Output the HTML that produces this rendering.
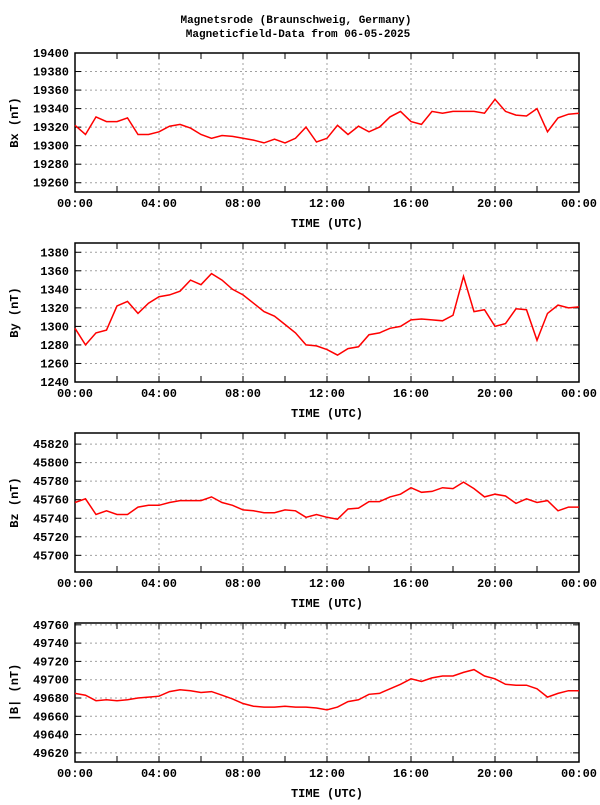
<!DOCTYPE html>
<html><head><meta charset="utf-8"><style>
body{margin:0;background:#fff;width:600px;height:800px;overflow:hidden}
svg text{font-family:"Liberation Mono",monospace;font-weight:bold;font-size:12px;fill:#000}
svg text.title{font-size:11px}
</style></head><body>
<svg id="chart" width="600" height="800" xmlns="http://www.w3.org/2000/svg">
<text class="title" x="296" y="23" text-anchor="middle">Magnetsrode (Braunschweig, Germany)</text>
<text class="title" x="298" y="37" text-anchor="middle">Magneticfield-Data from 06-05-2025</text>
</svg>
<script>
const hours = [0,0.5,1,1.5,2,2.5,3,3.5,4,4.5,5,5.5,6,6.5,7,7.5,8,8.5,9,9.5,10,10.5,11,11.5,12,12.5,13,13.5,14,14.5,15,15.5,16,16.5,17,17.5,18,18.5,19,19.5,20,20.5,21,21.5,22,22.5,23,23.5,24];
const bxValues = [19322,19312,19331,19326,19326,19330,19312,19312,19315,19321,19323,19319,19312,19308,19311,19310,19308,19306,19303,19307,19303,19308,19320,19304,19308,19322,19312,19321,19315,19320,19331,19337,19326,19323,19337,19335,19337,19337,19337,19335,19350,19337,19333,19332,19340,19315,19330,19334,19335];
const byValues = [1298,1280,1293,1296,1322,1327,1314,1325,1332,1334,1338,1350,1345,1357,1350,1340,1334,1325,1316,1311,1302,1293,1280,1279,1275,1269,1276,1278,1291,1293,1298,1300,1307,1308,1307,1306,1312,1354,1316,1318,1300,1303,1319,1318,1285,1314,1323,1320,1321];
const bzValues = [45757,45761,45744,45748,45744,45744,45752,45754,45754,45757,45759,45759,45759,45763,45757,45754,45749,45748,45746,45746,45749,45748,45741,45744,45741,45739,45750,45751,45758,45758,45763,45766,45773,45768,45769,45773,45772,45779,45772,45763,45766,45764,45756,45761,45757,45759,45748,45752,45752];
const btValues = [49685,49683,49677,49678,49677,49678,49680,49681,49682,49687,49689,49688,49686,49687,49683,49679,49674,49671,49670,49670,49671,49670,49670,49669,49667,49670,49676,49678,49684,49685,49690,49695,49701,49698,49702,49704,49704,49708,49711,49704,49701,49695,49694,49694,49690,49681,49685,49688,49688];
const xTickLabels = ["00:00","04:00","08:00","12:00","16:00","20:00","00:00"];
const bxTicks = [19260,19280,19300,19320,19340,19360,19380,19400];
const byTicks = [1240,1260,1280,1300,1320,1340,1360,1380];
const bzTicks = [45700,45720,45740,45760,45780,45800,45820];
const btTicks = [49620,49640,49660,49680,49700,49720,49740,49760];

const NS="http://www.w3.org/2000/svg";
const svg=document.getElementById('chart');
function mk(tag,attrs,parent){const e=document.createElementNS(NS,tag);for(const k in attrs)e.setAttribute(k,attrs[k]);(parent||svg).appendChild(e);return e;}
const L=75,R=579,H=139;
const panels=[
 {key:'bx',label:'Bx (nT)',vals:bxValues,ticks:bxTicks,min:19250,max:19400},
 {key:'by',label:'By (nT)',vals:byValues,ticks:byTicks,min:1240,max:1390},
 {key:'bz',label:'Bz (nT)',vals:bzValues,ticks:bzTicks,min:45682,max:45832},
 {key:'bt',label:'|B| (nT)',vals:btValues,ticks:btTicks,min:49610,max:49762}
];
panels.forEach((p,i)=>{
  const T=53+190*i,B=T+H;
  const g=mk('g',{});
  
  
  const xs=h=>L+h/24*(R-L);
  const ys=v=>B-(v-p.min)/(p.max-p.min)*H;
  p.ticks.forEach(t=>{const y=ys(t);
    const gl=mk('line',{x1:L,x2:R,y1:y,y2:y,stroke:'#a0a0a0','stroke-dasharray':'2,3'},g);
    
    
    mk('line',{x1:L,x2:L+6,y1:y,y2:y,stroke:'#000'},g);
    mk('line',{x1:R-6,x2:R,y1:y,y2:y,stroke:'#000'},g);
    const tl=mk('text',{x:L-6,y:y+4,'text-anchor':'end'},g);
    tl.textContent=t;
    
    
  });
  for(let h=0;h<=24;h+=2){const x=xs(h);
    if(h%4==0&&h>0&&h<24){const gl=mk('line',{x1:x,x2:x,y1:T,y2:B,stroke:'#a0a0a0','stroke-dasharray':'2,3'},g);
      
      }
    mk('line',{x1:x,x2:x,y1:B,y2:B-6,stroke:'#000'},g);
    mk('line',{x1:x,x2:x,y1:T,y2:T+6,stroke:'#000'},g);
  }
  xTickLabels.forEach((s,j)=>{const tl=mk('text',{x:xs(j*4),y:B+15,'text-anchor':'middle'},g);
    tl.textContent=s;
    
    });
  const xl=mk('text',{x:327,y:B+35,'text-anchor':'middle'},g);
  xl.textContent='TIME (UTC)';
  
  
  const cy=(T+B)/2;
  const yl=mk('text',{x:18,y:cy,'text-anchor':'middle',transform:`rotate(-90 18 ${cy})`},g);
  yl.textContent=p.label;
  
  
  const fr=mk('rect',{x:L,y:T,width:R-L,height:H,fill:'none',stroke:'#000','stroke-width':1.5},g);
  
  
  const pts=p.vals.map((v,j)=>xs(hours[j]).toFixed(1)+','+ys(v).toFixed(1)).join(' ');
  const ln=mk('polyline',{points:pts,fill:'none',stroke:'#ff0000','stroke-width':1.5},g);
  
  
});
</script>
</body></html>
